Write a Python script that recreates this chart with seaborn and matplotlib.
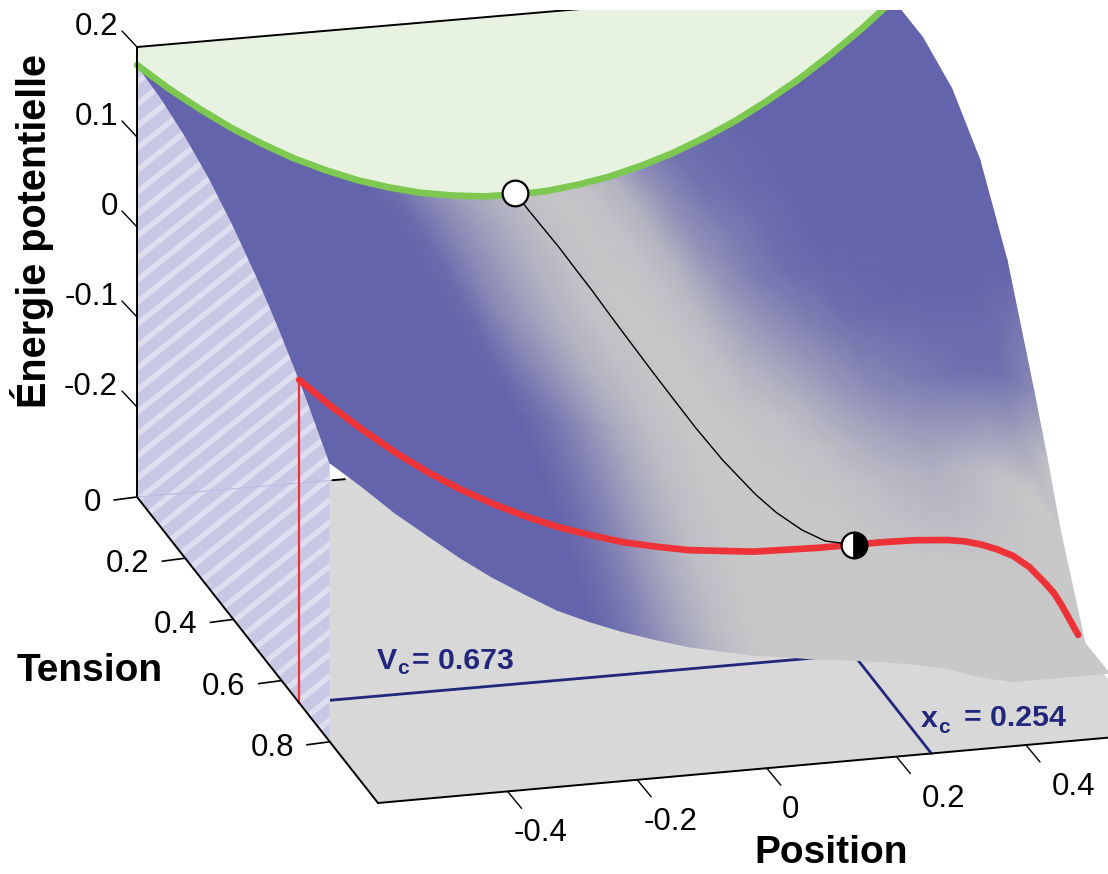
import numpy as np
import pandas as pd
import matplotlib
matplotlib.use("Agg")
import matplotlib.pyplot as plt
from matplotlib.collections import LineCollection
from matplotlib.colors import LinearSegmentedColormap
from matplotlib.patches import Polygon
import seaborn as sns

# surface: energy[tension row][position column]
position = [-0.6, -0.55, -0.5, -0.45, -0.4, -0.35, -0.3, -0.25, -0.2, -0.15, -0.1, -0.05, 0,
            0.05, 0.1, 0.15, 0.2, 0.25, 0.3, 0.35, 0.4, 0.45, 0.5, 0.55, 0.6]
tension = [0, 0.1, 0.2, 0.3, 0.4, 0.5, 0.55, 0.6, 0.7, 0.8]
energy = [
    [.180, .151, .125, .101, .080, .061, .045, .031, .020, .011, .005, .001, .000,
     .001, .005, .011, .020, .031, .045, .061, .080, .101, .125, .151, .180],
    [.177, .148, .122, .098, .077, .058, .042, .028, .017, .008, .002, -.002, -.004,
     -.003, .001, .007, .016, .027, .040, .056, .074, .095, .118, .145, .172],
    [.169, .140, .114, .089, .068, .048, .032, .018, .007, -.003, -.009, -.014, -.015,
     -.015, -.011, -.006, .002, .012, .025, .040, .057, .075, .097, .123, .149],
    [.156, .126, .099, .074, .052, .033, .016, .002, -.010, -.020, -.027, -.032, -.034,
     -.034, -.031, -.027, -.020, -.011, .000, .013, .028, .044, .062, .083, .103],
    [.137, .107, .079, .054, .031, .012, -.005, -.021, -.033, -.043, -.051, -.056, -.059,
     -.060, -.059, -.055, -.050, -.043, -.034, -.024, -.013, -.002, .009, .020, .024],
    [.113, .082, .054, .027, .004, -.017, -.034, -.050, -.063, -.074, -.082, -.089, -.093,
     -.095, -.095, -.093, -.089, -.085, -.078, -.072, -.065, -.060, -.058, -.064, -.087],
    [.099, .068, .039, .012, -.012, -.033, -.051, -.067, -.080, -.092, -.100, -.107, -.112,
     -.115, -.116, -.115, -.112, -.109, -.104, -.100, -.095, -.094, -.096, -.109, -.144],
    [.084, .052, .022, -.005, -.030, -.051, -.069, -.085, -.099, -.111, -.120, -.128, -.133,
     -.137, -.138, -.139, -.137, -.135, -.132, -.130, -.128, -.130, -.138, -.159, -.205],
    [.050, .016, -.015, -.044, -.070, -.091, -.110, -.128, -.142, -.155, -.166, -.175, -.182,
     -.187, -.191, -.193, -.195, -.196, -.197, -.199, -.204, -.214, -.234, -.271, -.300],
    [.010, -.020, -.052, -.080, -.108, -.133, -.155, -.176, -.192, -.206, -.218, -.229, -.237,
     -.245, -.250, -.256, -.260, -.265, -.271, -.279, -.291, -.300, -.300, -.300, -.300],
]
# how blue the surface is at each grid point (0 grey, 1 blue)
blueness = [
    [1, 1, 1, 1, 1, 1, 1, 1, .92, .68, .45, .28, .12, .03, .05, .2, .6, .85, .93, .98, 1, 1, 1, 1, 1],
    [1, 1, 1, 1, 1, 1, 1, 1, .92, .68, .45, .26, .1, .03, .06, .2, .58, .85, .93, .97, 1, 1, 1, 1, 1],
    [1, 1, 1, 1, 1, 1, 1, 1, .92, .65, .42, .22, .08, .02, .05, .18, .55, .75, .9, .97, 1, 1, 1, 1, 1],
    [1, 1, 1, 1, 1, 1, 1, 1, .92, .63, .4, .19, .07, .01, .03, .15, .45, .72, .9, .97, 1, 1, 1, 1, 1],
    [1, 1, 1, 1, 1, 1, 1, 1, .95, .7, .47, .22, .09, .02, .02, .1, .3, .5, .7, .88, .95, .98, 1, 1, 1],
    [1, 1, 1, 1, 1, 1, 1, 1, 1, .85, .6, .32, .12, .03, 0, .03, .08, .22, .42, .6, .72, .82, .88, .88, .62],
    [1, 1, 1, 1, 1, 1, 1, 1, 1, .85, .6, .32, .12, .03, 0, .02, .04, .1, .25, .38, .48, .52, .5, .45, .1],
    [1, 1, 1, 1, 1, 1, 1, 1, 1, .85, .6, .32, .12, .03, 0, 0, .02, .04, .1, .18, .25, .18, .08, .02, 0],
    [1, 1, 1, 1, 1, 1, 1, 1, 1, .85, .6, .32, .12, .03, 0, 0, 0, 0, 0, 0, 0, 0, 0, 0, 0],
    [1, 1, 1, 1, 1, 1, 1, 1, 1, .85, .6, .34, .14, .03, 0, 0, 0, 0, 0, 0, 0, 0, 0, 0, 0],
]

green_position = position
green_energy = energy[0]
red_position = [-0.6, -0.55, -0.5, -0.45, -0.4, -0.35, -0.3, -0.25, -0.2, -0.15, -0.1, -0.05, 0,
                0.05, 0.1, 0.15, 0.2, 0.25, 0.3, 0.35, 0.4, 0.425, 0.45, 0.475, 0.5, 0.525, 0.55,
                0.5625, 0.575, 0.5875, 0.6]
red_energy = [.059, .026, -.004, -.032, -.057, -.079, -.098, -.115, -.130, -.142, -.153, -.161, -.168,
              -.172, -.176, -.177, -.178, -.178, -.178, -.179, -.182, -.185, -.190, -.197, -.206, -.220, -.240,
              -.251, -.266, -.283, -.300]

path_tension = [0, .05, .1, .15, .2, .25, .3, .35, .4, .45, .5, .55, .6, .625, .65, .665, .673]
path_position = [0, .0006, .0025, .0056, .0101, .0162, .0239, .0333, .0449, .0592, .077, .0998, .131, .1532, .1834, .2135, .254]
path_energy = [.002, -.001, -.004, -.008, -.015, -.023, -.034, -.046, -.060, -.076, -.095, -.116, -.139, -.152, -.165, -.174, -.178]

v_c = 0.673
x_c = 0.254

z_ticks = [0.2, 0.1, 0, -0.1, -0.2]
z_labels = ["0.2", "0.1", "0", "-0.1", "-0.2"]
t_ticks = [0, 0.2, 0.4, 0.6, 0.8]
t_labels = ["0", "0.2", "0.4", "0.6", "0.8"]
p_ticks = [-0.4, -0.2, 0, 0.2, 0.4]
p_labels = ["-0.4", "-0.2", "0", "0.2", "0.4"]

BLUE = "#6464AC"
GREY = "#C8C8C8"
FLOOR = "#D8D8D8"
NAVY = "#22267C"
RED = "#EE3338"
GREEN = "#7CC850"


def project(x, v, z=-0.3):
    # oblique view of the box, fitted to the axis ticks
    x = np.asarray(x, dtype=float)
    v = np.asarray(v, dtype=float)
    z = np.asarray(z, dtype=float)
    px = 137 + 241 * v + (x + 0.6) * (630 + 50 * v - 32 * v ** 2)
    py = 497 + 306 * v - (x + 0.6) * (54 + 4 * v) - (z + 0.3) * 900
    return px, py


sns.set_theme(style="white")
plt.rcParams["font.family"] = ["Liberation Sans", "DejaVu Sans"]

fig = plt.figure(figsize=(11.08, 8.74), dpi=100)
ax = fig.add_axes([0, 0, 1, 864 / 874])
ax.set_xlim(0, 1108)
ax.set_ylim(874, 10)
ax.axis("off")

# floor
fx, fy = project([-0.6, 0.6, 0.6, -0.6], [0, 0, 1, 1])
ax.add_patch(Polygon(np.c_[fx, fy], fc=FLOOR, ec="none", zorder=1))

# critical lines on the floor
lx, ly = project([-0.6, x_c], [v_c, v_c])
ax.plot(lx, ly, color=NAVY, lw=2, zorder=2)
lx, ly = project([x_c, x_c], [v_c, 1])
ax.plot(lx, ly, color=NAVY, lw=2, zorder=2)

# striped side wall
wall_t = np.array(tension)
wall_z = np.array(energy)[:, 0]
top_x, top_y = project(-0.6, wall_t, wall_z)
bot_x, bot_y = project(-0.6, wall_t[::-1])
wall = Polygon(np.r_[np.c_[top_x, top_y], np.c_[bot_x, bot_y]], fc="#C8C8E4", ec="none", zorder=3)
ax.add_patch(wall)
offsets = np.arange(90, 1000, 22)
segs = [[(100, c), (400, c - 0.8 * 300)] for c in offsets]
stripes = LineCollection(segs, colors="#DEDEF0", linewidths=4, zorder=3.1)
ax.add_collection(stripes)
stripes.set_clip_path(wall)

# back wall above the green curve
gx, gy = project(green_position, np.zeros(len(green_position)), green_energy)
tx, ty = project([0.6, -0.6], [0, 0], [0.2, 0.2])
ax.add_patch(Polygon(np.r_[np.c_[gx, gy], np.c_[tx, ty]], fc="#E8F2E1", ec="none", zorder=3))

# surface
T, P = np.meshgrid(tension, position, indexing="ij")
sx, sy = project(P, T, np.array(energy))
cmap = LinearSegmentedColormap.from_list("surface", [GREY, BLUE])
ax.pcolormesh(sx, sy, np.array(blueness), shading="gouraud", cmap=cmap, vmin=0, vmax=1, zorder=4)

# box edges and ticks
ex, ey = project([-0.6, -0.6], [0, 0], [-0.3, 0.2])
ax.plot(ex, ey, color="black", lw=1.4, zorder=6)
ex, ey = project([-0.6, 0.6], [0, 0], [0.2, 0.2])
ax.plot(ex, ey, color="black", lw=1.4, zorder=3.5)
ex, ey = project([-0.6, -0.6], [0, 1])
ax.plot(ex, ey, color="black", lw=1.4, zorder=6)
ex, ey = project([-0.6, 0.6], [1, 1])
ax.plot(ex, ey, color="black", lw=1.4, zorder=6)
ex, ey = project([-0.6, -0.29], [0, 0])
ax.plot(ex, ey, color="#B4BEE2", lw=0.8, zorder=3.2)
ex, ey = project([-0.29, -0.27], [0, 0])
ax.plot(ex, ey, color="black", lw=1.4, zorder=3.2)

for val, lab in zip(z_ticks, z_labels):
    tx, ty = project(-0.6, 0, val)
    ax.plot([tx, tx - 15], [ty, ty - 16], color="black", lw=1, zorder=6)
    ax.text(118, ty - 20, lab, ha="right", va="center", fontsize=22.5, color="black")
for val, lab in zip(t_ticks, t_labels):
    tx, ty = project(-0.6, val)
    ax.plot([tx, tx - 23], [ty, ty + 3], color="black", lw=1.2, zorder=6)
    ax.text(tx - 36, ty + 6, lab, ha="right", va="center", fontsize=22.5, color="black")
p_shift = [6, 6, 15, 25, 26]
for val, lab, sh in zip(p_ticks, p_labels, p_shift):
    tx, ty = project(val, 1)
    ax.plot([tx, tx + 14], [ty, ty + 17], color="black", lw=1, zorder=6)
    ax.text(tx + sh, ty + 42, lab, ha="left", va="center", fontsize=22.5, color="black")

# curves on the surface
vx, vy = project([-0.6, -0.6], [v_c, v_c], [red_energy[0], -0.3])
ax.plot(vx, vy, color=RED, lw=1.6, zorder=5)

green = pd.DataFrame({"position": green_position, "energy": green_energy})
gx, gy = project(green["position"], 0, green["energy"])
sns.lineplot(x=gx, y=gy, sort=False, estimator=None, color=GREEN, lw=4.8, ax=ax, zorder=5)
red = pd.DataFrame({"position": red_position, "energy": red_energy})
rx, ry = project(red["position"], v_c, red["energy"])
sns.lineplot(x=rx, y=ry, sort=False, estimator=None, color=RED, lw=4.8, ax=ax, zorder=5)
bx, by = project(path_position, path_tension, path_energy)
sns.lineplot(x=bx, y=by, sort=False, estimator=None, color="black", lw=1, ax=ax, zorder=5)

# fixed points
ax.plot(bx[0], by[0], marker="o", ms=18.5, mfc="white", mec="black", mew=1.6, zorder=7)
ax.plot(bx[-1], by[-1], marker="o", ms=18.5, fillstyle="left", mfc="white", markerfacecoloralt="black",
        mec="black", mew=1.6, zorder=7)

# labels
ax.text(32, 231, "Énergie potentielle", rotation=90, ha="center", va="center", fontsize=28.5, fontweight="bold", color="black")
ax.text(90, 671, "Tension", ha="center", va="center", fontsize=28, fontweight="bold", color="black")
ax.text(831, 853, "Position", ha="center", va="center", fontsize=28, fontweight="bold", color="black")

ax.text(377, 661, "V", ha="left", va="center", fontsize=21.8, fontweight="bold", color=NAVY)
ax.text(397, 668, "c", ha="left", va="center", fontsize=15, fontweight="bold", color=NAVY)
ax.text(412, 661, "= 0.673", ha="left", va="center", fontsize=21.8, fontweight="bold", color=NAVY)
ax.text(921, 719, "x", ha="left", va="center", fontsize=21.8, fontweight="bold", color=NAVY)
ax.text(938, 727, "c", ha="left", va="center", fontsize=15, fontweight="bold", color=NAVY)
ax.text(964, 718, "= 0.254", ha="left", va="center", fontsize=21.8, fontweight="bold", color=NAVY)

fig.savefig("out.png", dpi=100)
